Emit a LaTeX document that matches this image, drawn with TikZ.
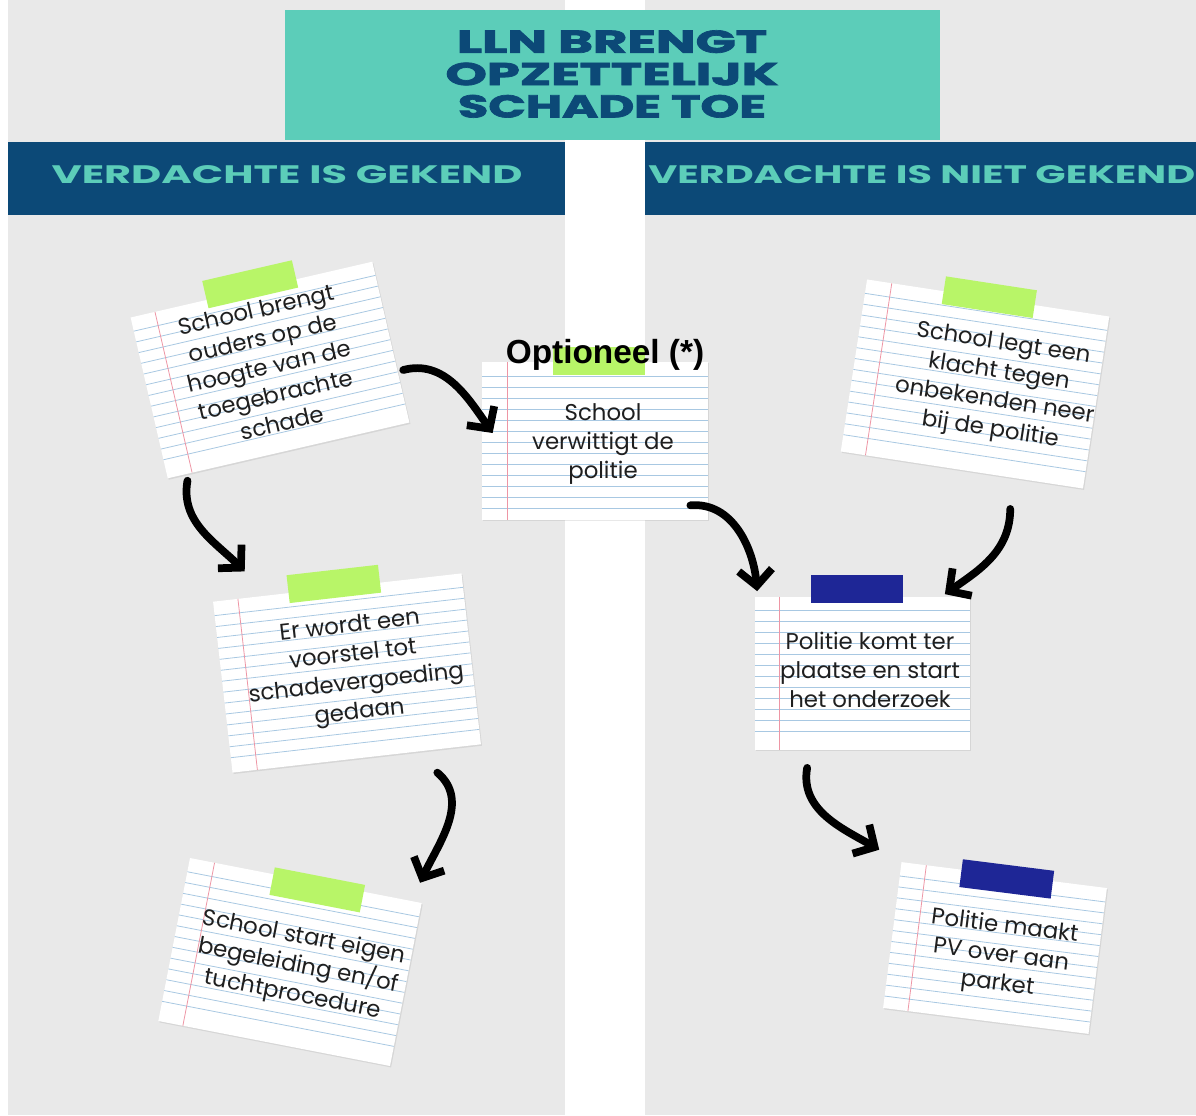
\documentclass[tikz,border=0pt]{standalone}
\usepackage{fontspec}
\setmainfont{Poppins}
\newfontfamily\labelfont{Liberation Sans}
\newfontfamily\heavyfont{Poppins}[FakeBold=2.2]
\usetikzlibrary{arrows.meta,shadows}

\definecolor{wallgrey}{RGB}{233,233,233}
\definecolor{titleteal}{RGB}{92,205,185}
\definecolor{headnavy}{RGB}{12,73,119}
\definecolor{tapegreen}{RGB}{184,245,104}
\definecolor{tapeblue}{RGB}{30,38,150}
\definecolor{rulingblue}{RGB}{168,200,226}
\definecolor{marginred}{RGB}{238,150,165}

% a sheet of lined paper: name, centre, angle, width, height, tape colour, tape pos, text pos, text
\newcommand{\lined}[9]{%
  \begin{scope}[shift={#2}, rotate=#3, transform shape]
    \node[paper, minimum width=#4*0.02cm, minimum height=#5*0.02cm] (#1) {};
    \pgfmathtruncatemacro{\nrules}{(#5-14)/11}
    \foreach \k in {1,...,\nrules}
      \draw[ruling] (-#4/2, #5/2-3-\k*11) -- (#4/2, #5/2-3-\k*11);
    \draw[marginline] (-#4/2+25, #5/2) -- (-#4/2+25, -#5/2);
    \fill[#6] #7 ++(-46,-14) rectangle ++(92,28);
    \node[notetext] (#1t) at #8 {#9};
  \end{scope}}

\tikzset{
  paper/.style={fill=white, inner sep=0pt,
    drop shadow={opacity=0.18, shadow xshift=0.6pt, shadow yshift=-0.8pt}},
  ruling/.style={draw=rulingblue, line width=0.45pt},
  marginline/.style={draw=marginred, line width=0.45pt},
  notetext/.style={font=\fontsize{13}{16.5}\selectfont, align=center, text=black!88},
  headtext/.style={text=titleteal, font=\bfseries, inner sep=0pt},
  brush/.style={line width=4.4pt, line cap=round, -{Straight Barb[length=9pt,width=19pt]}}
}

\begin{document}
\begin{tikzpicture}[x=0.02cm, y=0.02cm]
  \useasboundingbox (0,0) rectangle (1196,-1115);
  \fill[white] (0,0) rectangle (1196,-1115);
  \fill[wallgrey] (8,0) rectangle (565,-1115);
  \fill[wallgrey] (645,0) rectangle (1196,-1115);

  % title and column heads
  \fill[titleteal] (285,-10) rectangle (940,-140);
  \node[text=headnavy, font=\heavyfont\bfseries\fontsize{10}{18.4}\selectfont, align=center, inner sep=0pt]
    (title) at (612,-74) {\resizebox{6.2cm}{0.45cm}{LLN BRENGT}\\
      \resizebox{6.66cm}{0.45cm}{OPZETTELIJK}\\
      \resizebox{6.16cm}{0.45cm}{SCHADE TOE}};

  \fill[headnavy] (8,-142) rectangle (565,-215);
  \fill[headnavy] (645,-142) rectangle (1196,-215);
  \node[headtext] (known) at (287,-175) {\resizebox{9.42cm}{0.36cm}{VERDACHTE IS GEKEND}};
  \node[headtext, anchor=west] (unknown) at (648,-175) {\resizebox{10.94cm}{0.36cm}{VERDACHTE IS NIET GEKEND}};

  % notes
  \lined{n1}{(270,-370)}{13}{248}{165}{tapegreen}{(0,88)}{(0,4)}{School brengt\\ouders op de\\hoogte van de\\toegebrachte\\schade}
  \lined{n2}{(595,-441)}{0}{226}{158}{tapegreen}{(4,80)}{(8,-3)}{School\\verwittigt de\\politie}
  \node[font=\labelfont\bfseries\fontsize{19}{22}\selectfont, inner sep=0pt] (opt) at (605,-355) {Optioneel (*)};
  \lined{n3}{(347,-673)}{6.5}{250}{172}{tapegreen}{(-3,90)}{(8,2)}{Er wordt een\\voorstel tot\\schadevergoeding\\gedaan}
  \lined{n4}{(290,-962)}{-11}{236}{166}{tapegreen}{(13,76)}{(9,-3)}{School start eigen\\begeleiding en/of\\tuchtprocedure}
  \lined{n5}{(975,-384)}{-8.7}{245}{174}{tapegreen}{(1,88)}{(22,0)}{School legt een\\klacht tegen\\onbekenden neer\\bij de politie}
  \lined{n6}{(862,-673)}{0}{215}{153}{tapeblue}{(-5,84)}{(8,3)}{Politie komt ter\\plaatse en start\\het onderzoek}
  \lined{n7}{(995,-948)}{-7.2}{207}{147}{tapeblue}{(3,70)}{(7,-7)}{Politie maakt\\PV over aan\\parket}

  % arrows
  \draw[brush] ([shift={(20,-2)}]n1.south west) to[out=-100,in=135] ([shift={(32,30)}]n3.north west);
  \draw[brush] ([shift={(12,-28)}]n1.east) to[out=15,in=125] ([shift={(11,8)}]n2.west);
  \draw[brush] ([shift={(-44,-28)}]n3.south east) to[out=-40,in=65] ([shift={(-2,20)}]n4.north east);
  \draw[brush] ([shift={(-18,15)}]n2.south east) to[out=5,in=95] ([shift={(3,5)}]n6.north west);
  \draw[brush] ([shift={(-73,-20)}]n5.south east) to[out=-90,in=35] ([shift={(-25,2)}]n6.north east);
  \draw[brush] ([shift={(53,-18)}]n6.south west) to[out=-100,in=150] ([shift={(-22,12)}]n7.north west);
\end{tikzpicture}
\end{document}
